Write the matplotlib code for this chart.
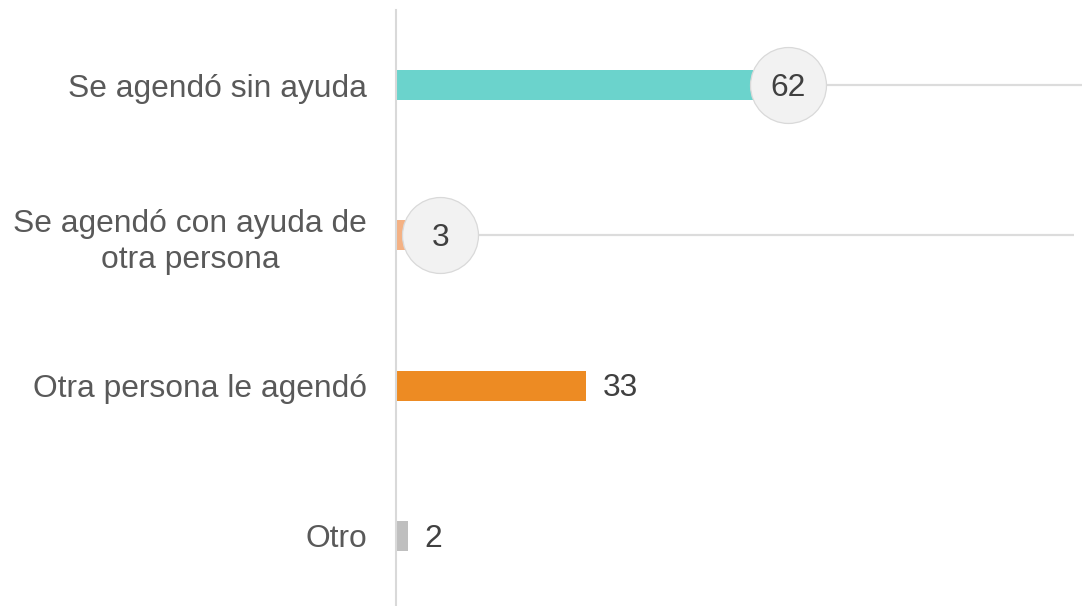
import matplotlib.pyplot as plt
import matplotlib.transforms as mtransforms

categories = ["Se agendó sin ayuda", "Se agendó con ayuda de\notra persona",
              "Otra persona le agendó", "Otro"]
values = [62, 3, 33, 2]
colors = ["#6bd3cc", "#f4b183", "#ed8b23", "#bfbfbf"]
highlighted = [True, True, False, False]

plt.rcParams['font.family'] = ['Liberation Sans', 'DejaVu Sans']

fig = plt.figure(figsize=(10.82, 6.06), dpi=100)
ax = fig.add_axes([396 / 1082, 0, 686 / 1082, 596 / 606])

y = range(len(categories))
ax.barh(y, values, height=0.2, color=colors, zorder=2)

ax.set_xlim(0, 119)
ax.set_ylim(3.467, -0.5)

fs = 22.9
for i, (v, hl) in enumerate(zip(values, highlighted)):
    if hl:
        dx = 35 if v > 10 else 27  # desplazamiento de la burbuja en px
        trans = ax.transData + mtransforms.ScaledTranslation(dx / 100, 0, fig.dpi_scale_trans)
        line_end = 119 if v > 10 else 113
        ax.plot([v, line_end], [i, i], color="#dcdcdc", lw=1.6, transform=trans, zorder=1,
                solid_capstyle="butt")
        ax.scatter([v], [i], s=2990, facecolor="#f2f2f2", edgecolor="#d9d9d9",
                   linewidth=0.9, transform=trans, zorder=3)
        ttrans = trans + mtransforms.ScaledTranslation(0, -3 / 100, fig.dpi_scale_trans)
        ax.text(v, i, str(v), transform=ttrans, ha="center", va="center",
                fontsize=fs, color="#404040", zorder=4)
    else:
        ax.annotate(str(v), (v, i), xytext=(12, -2), textcoords="offset points",
                    ha="left", va="center", fontsize=fs, color="#404040")

ax.set_yticks(list(y))
ax.set_yticklabels(categories, fontsize=fs, color="#595959", ha="right",
                   multialignment="center", linespacing=1.25)
ax.tick_params(axis="y", length=0, pad=21)

ax.set_xticks([])
for side in ["top", "right", "bottom"]:
    ax.spines[side].set_visible(False)
ax.spines["left"].set_color("#d9d9d9")
ax.spines["left"].set_linewidth(1.5)

fig.savefig("out.png", dpi=100)
